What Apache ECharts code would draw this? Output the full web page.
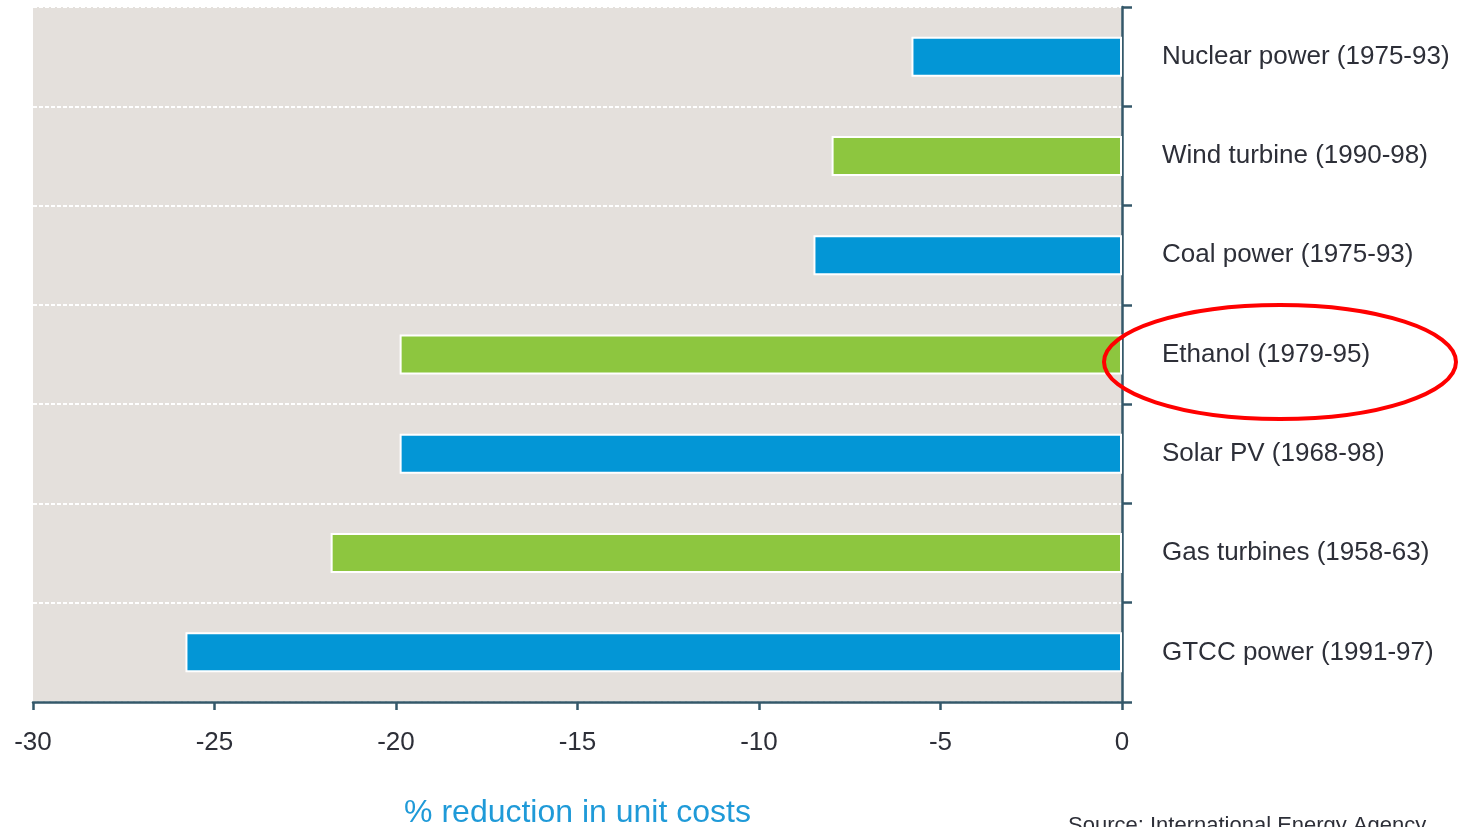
<!DOCTYPE html>
<html>
<head>
<meta charset="utf-8">
<script src="https://cdn.jsdelivr.net/npm/echarts@6/dist/echarts.min.js"></script>
<style>html,body{margin:0;padding:0;background:#fff;}#c{width:1464px;height:827px;}</style>
</head>
<body>
<div id="c"></div>
<script>
const categories = ['Nuclear power (1975-93)', 'Wind turbine (1990-98)', 'Coal power (1975-93)', 'Ethanol (1979-95)', 'Solar PV (1968-98)', 'Gas turbines (1958-63)', 'GTCC power (1991-97)'];
const values = [-5.8, -8, -8.5, -19.9, -19.9, -21.8, -25.8];
const barColors = ['#0396d6', '#8dc63f', '#0396d6', '#8dc63f', '#0396d6', '#8dc63f', '#0396d6'];
const xTicks = [-30, -25, -20, -15, -10, -5, 0];
const axisTitle = '% reduction in unit costs';
const sourceText = 'Source: International Energy Agency';

const chart = echarts.init(document.getElementById('c'));
const axisColor = '#34586a';
chart.setOption({
  animation: false,
  grid: {left: 33, right: 342, top: 7, bottom: 125, show: true, backgroundColor: '#e4e0dc', borderWidth: 0, outerBoundsMode: 'none', containLabel: false},
  xAxis: {
    type: 'value', min: xTicks[0], max: xTicks[xTicks.length - 1], interval: 5,
    axisLine: {show: true, lineStyle: {color: axisColor, width: 2.5}},
    axisTick: {show: true, length: 8, lineStyle: {color: axisColor, width: 2.5}},
    splitLine: {show: false},
    axisLabel: {color: '#2d2f38', fontSize: 26, fontFamily: 'Liberation Sans, Arial', margin: 28},
    name: axisTitle, nameLocation: 'middle', nameGap: 95,
    nameTextStyle: {color: '#1f9ad8', fontSize: 32, fontFamily: 'Liberation Sans, Arial'}
  },
  yAxis: {
    type: 'category', data: categories, inverse: true, position: 'right',
    axisLine: {show: true, lineStyle: {color: axisColor, width: 2.5}},
    axisTick: {show: true, length: 10, lineStyle: {color: axisColor, width: 2.5}},
    splitLine: {show: true, lineStyle: {color: '#ffffff', width: 2, type: [4, 2]}},
    axisLabel: {color: '#2d2f38', fontSize: 26, fontFamily: 'Liberation Sans, Arial', margin: 40, align: 'left', padding: [4, 0, 0, 0]}
  },
  series: [{
    type: 'bar', barWidth: 40,
    data: values.map((v, i) => ({value: v, itemStyle: {color: barColors[i]}})),
    itemStyle: {borderColor: '#ffffff', borderWidth: 2}
  }],
  graphic: [
    {type: 'ellipse', shape: {cx: 1280, cy: 362, rx: 176, ry: 57}, style: {fill: 'none', stroke: '#ff0000', lineWidth: 4}, z: 100},
    {type: 'text', left: 1068, top: 815, style: {text: sourceText, fill: '#2d2f38', font: '22px Liberation Sans, Arial'}}
  ]
});
</script>
</body>
</html>
